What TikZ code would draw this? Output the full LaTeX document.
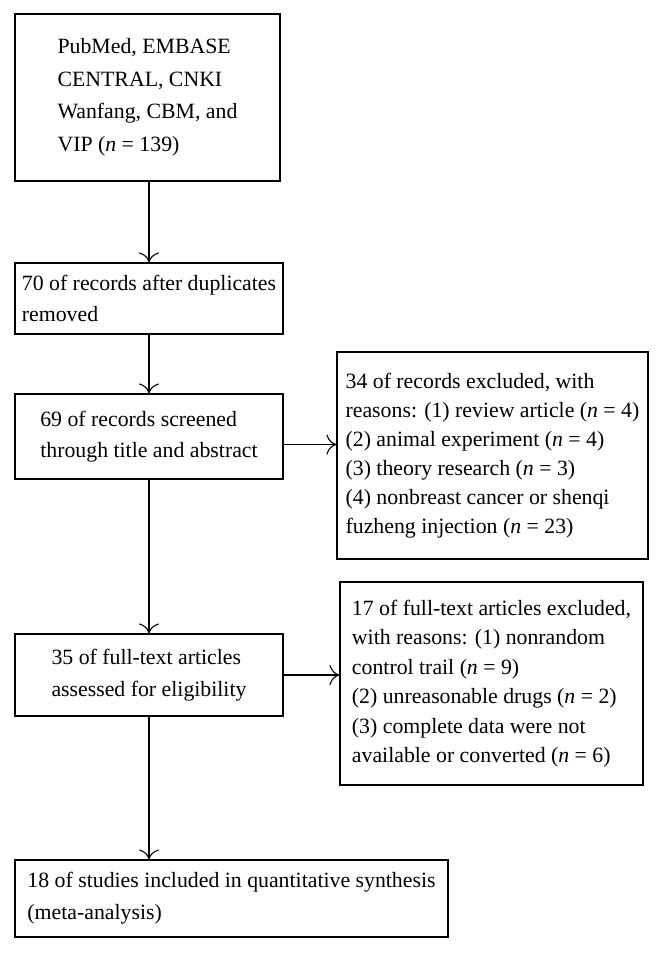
\documentclass[tikz,border=0pt]{standalone}
\usepackage{fontspec}
\setmainfont{Liberation Serif}
\usetikzlibrary{arrows.meta}
\begin{document}
\begin{tikzpicture}
		[	x=1pt,y=-1pt,
		box/.style={rectangle,draw=black,line width=1.1pt,align=left,inner sep=0pt,
			font=\fontsize{21.8}{30.5}\selectfont},
		flow/.style={-{To[length=10pt,width=20pt]},line width=1.1pt}
		]
		\useasboundingbox (0,0) rectangle (663,954);
		\node[box,minimum width=265,minimum height=167,font=\fontsize{21.8}{32.5}\selectfont] (search) at (147.5,97.5)
			{PubMed, EMBASE\\CENTRAL, CNKI\\Wanfang, CBM, and\\VIP (\textit{n} = 139)};
		\node[box,minimum width=268,minimum height=71] (dupl) at (149,298.5)
			{70 of records after duplicates\\removed};
		\node[box,minimum width=268,minimum height=85] (screen) at (149,436.5)
			{69 of records screened\\through title and abstract};
		\node[box,minimum width=311,minimum height=207,font=\fontsize{21.8}{29}\selectfont] (excla) at (492.5,455.5)
			{34 of records excluded, with\\reasons: (1) review article (\textit{n} = 4)\\(2) animal experiment (\textit{n} = 4)\\(3) theory research (\textit{n} = 3)\\(4) nonbreast cancer or shenqi\\fuzheng injection (\textit{n} = 23)};
		\node[box,minimum width=268,minimum height=82,font=\fontsize{21.8}{31.5}\selectfont] (full) at (149,675)
			{35 of full-text articles\\assessed for eligibility};
		\node[box,minimum width=303,minimum height=203,font=\fontsize{21.8}{29.5}\selectfont] (exclb) at (491.5,683.5)
			{17 of full-text articles excluded,\\with reasons: (1) nonrandom\\control trail (\textit{n} = 9)\\(2) unreasonable drugs (\textit{n} = 2)\\(3) complete data were not\\available or converted (\textit{n} = 6)};
		\node[box,minimum width=433,minimum height=77,font=\fontsize{21.8}{32}\selectfont] (incl) at (231.5,898.5)
			{18 of studies included in quantitative synthesis\\(meta-analysis)};
% vertical flow
		\draw[flow] (search.south -| dupl.north) -- (dupl.north);
		\draw[flow] (dupl) -- (screen);
		\draw[flow] (screen) -- (full);
		\draw[flow] (full.south) -- (full.south |- incl.north);
% exclusions
		\draw[flow] ([yshift=-8]screen.east) -- ([yshift=-8]screen.east -| excla.west);
		\draw[flow] (full.east) -- (full.east -| exclb.west);
	\end{tikzpicture}
\end{document}
